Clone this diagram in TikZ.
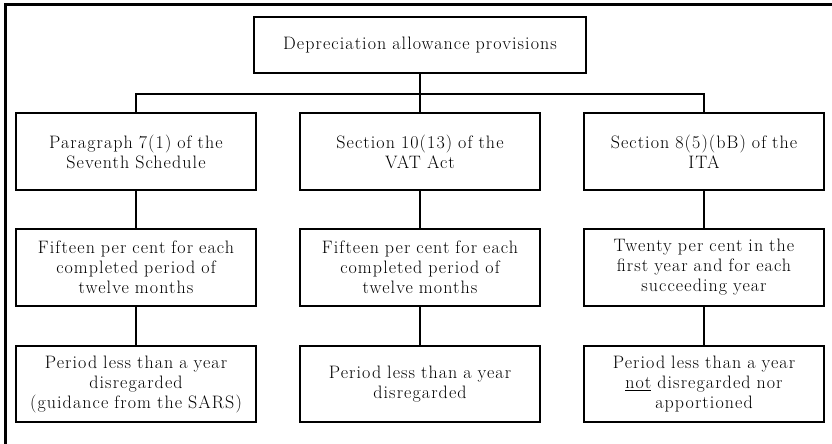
\documentclass[tikz,border=0pt]{standalone}
\usepackage{fontspec}
\setmainfont{Latin Modern Roman}[LetterSpace=6]
\begin{document}
\begin{tikzpicture}[x=1pt,y=1pt,
  box/.style={draw,line width=1.4pt,align=center,inner sep=0pt,
    minimum width=240pt,minimum height=77pt,text width=238pt,
    font=\fontsize{18}{20}\selectfont},
  conn/.style={line width=1.4pt}]
\useasboundingbox (0,0) rectangle (832,-444);
\draw[line width=3pt] (5.5,-444) -- (5.5,-4.5) -- (832,-4.5);
\node[box,minimum width=332pt,minimum height=56pt,text width=326pt] (top) at (420,-45) {Depreciation allowance provisions};
\node[box] (a1) at (136,-151.5) {Paragraph 7(1) of the\\Seventh Schedule};
\node[box] (b1) at (420,-151.5) {Section 10(13) of the\\VAT Act};
\node[box] (c1) at (704,-151.5) {Section 8(5)(bB) of the\\ITA};
\node[box] (a2) at (136,-267.5) {Fifteen per cent for each\\completed period of\\twelve months};
\node[box] (b2) at (420,-267.5) {Fifteen per cent for each\\completed period of\\twelve months};
\node[box] (c2) at (704,-267.5) {Twenty per cent in the\\first year and for each\\succeeding year};
\node[box,minimum height=76pt] (a3) at (136,-384) {Period less than a year\\disregarded\\(guidance from the SARS)};
\node[box,minimum height=76pt] (b3) at (420,-384) {Period less than a year\\disregarded};
\node[box,minimum height=76pt] (c3) at (704,-384) {Period less than a year\\\underline{not} disregarded nor\\apportioned};
\coordinate (bus) at (420,-94);
\draw[conn] (top.south) -- (bus);
\draw[conn] (a1.north) |- (bus) -| (c1.north);
\draw[conn] (bus) -- (b1.north);
\draw[conn] (a1) -- (a2);
\draw[conn] (b1) -- (b2);
\draw[conn] (c1) -- (c2);
\draw[conn] (a2) -- (a3);
\draw[conn] (b2) -- (b3);
\draw[conn] (c2) -- (c3);
\end{tikzpicture}
\end{document}
